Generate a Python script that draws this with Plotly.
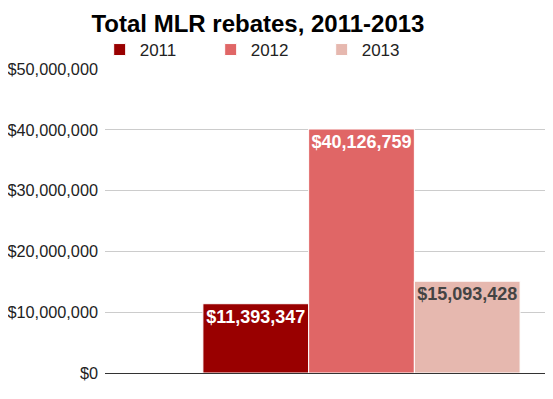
import plotly.graph_objects as go

years = ["2011", "2012", "2013"]
rebates = [11393347, 40126759, 15093428]
colors = ["#990000", "#e06666", "#e6b8af"]
label_colors = ["#ffffff", "#ffffff", "#444444"]
y_ticks = [0, 10000000, 20000000, 30000000, 40000000, 50000000]
y_tick_labels = ["$0", "$10,000,000", "$20,000,000", "$30,000,000", "$40,000,000", "$50,000,000"]

fig = go.Figure()
for yr, val, col, lc in zip(years, rebates, colors, label_colors):
    fig.add_trace(go.Bar(
        name=yr, x=[""], y=[val], marker=dict(color=col, line=dict(color="white", width=1)),
        text=[f"${val:,}"], textposition="inside", insidetextanchor="end",
        textangle=0, constraintext="none",
        textfont=dict(family="Liberation Sans, Arial", size=18, color=lc, weight="bold"),
        hoverinfo="skip",
    ))

fig.update_layout(
    width=553, height=399,
    margin=dict(l=97, r=13, t=61, b=34, autoexpand=False),
    paper_bgcolor="white", plot_bgcolor="white",
    barmode="group", bargap=0.284, bargroupgap=0,
    font=dict(family="Liberation Sans, Arial", size=17, color="#222222"),
    title=dict(text="<b>Total MLR rebates, 2011-2013</b>", x=0.452, xanchor="center",
               y=0.962, yanchor="middle", font=dict(size=24, color="#000000")),
    legend=dict(orientation="h", x=-0.012, xanchor="left", y=1.0625, yanchor="middle",
                entrywidth=66, font=dict(size=17, color="#222222"), traceorder="normal"),
    xaxis=dict(range=[-0.579, 0.421], showticklabels=False, showgrid=False, zeroline=False,
               fixedrange=True),
    yaxis=dict(range=[0, 50000000], tickvals=y_ticks, ticktext=y_tick_labels,
               tickfont=dict(size=16.3),
               gridcolor="#cccccc", showline=False, zeroline=True, zerolinecolor="#333333",
               zerolinewidth=1, ticks="", ticklabelstandoff=6, automargin=False),
)
fig.write_html("out.html")
